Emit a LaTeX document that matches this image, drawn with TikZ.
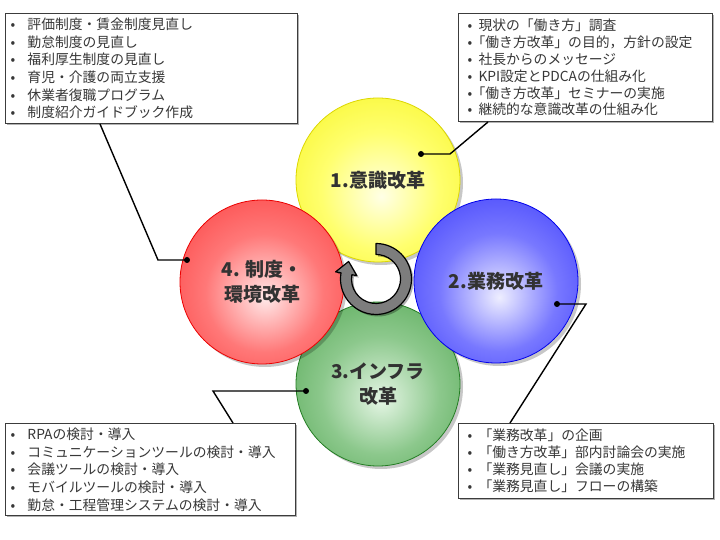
\documentclass[tikz,border=0pt]{standalone}
\usepackage{fontspec}
\setmainfont{Noto Sans CJK JP}
\usetikzlibrary{shadows}
\definecolor{txt}{RGB}{55,55,55}
\definecolor{ctxt}{RGB}{50,50,50}
\definecolor{boxline}{RGB}{60,60,60}
\definecolor{ringgray}{RGB}{125,125,125}
\definecolor{yin}{RGB}{255,255,230}
\definecolor{ymid}{RGB}{255,255,110}
\definecolor{yout}{RGB}{245,242,20}
\definecolor{yedge}{RGB}{220,215,0}
\definecolor{bin}{RGB}{238,238,255}
\definecolor{bmid}{RGB}{120,120,255}
\definecolor{bout}{RGB}{45,45,250}
\definecolor{bedge}{RGB}{0,0,235}
\definecolor{gin}{RGB}{228,245,228}
\definecolor{gmid}{RGB}{140,200,140}
\definecolor{gout}{RGB}{70,160,70}
\definecolor{gedge}{RGB}{35,125,35}
\definecolor{rin}{RGB}{255,232,232}
\definecolor{rmid}{RGB}{255,120,120}
\definecolor{rout}{RGB}{250,50,50}
\definecolor{redge}{RGB}{235,0,0}
\pgfdeclareradialshading{yball}{\pgfpoint{1bp}{-5bp}}{color(0bp)=(yin); color(18bp)=(ymid); color(42bp)=(yout); color(56bp)=(yout)}
\pgfdeclareradialshading{bball}{\pgfpoint{1bp}{-5bp}}{color(0bp)=(bin); color(18bp)=(bmid); color(42bp)=(bout); color(56bp)=(bout)}
\pgfdeclareradialshading{gball}{\pgfpoint{1bp}{-5bp}}{color(0bp)=(gin); color(18bp)=(gmid); color(42bp)=(gout); color(56bp)=(gout)}
\pgfdeclareradialshading{rball}{\pgfpoint{1bp}{-5bp}}{color(0bp)=(rin); color(18bp)=(rmid); color(42bp)=(rout); color(56bp)=(rout)}
\newcommand{\bulL}{\makebox[17pt][l]{•}}
\newcommand{\bulR}{\makebox[11pt][l]{•}}
\begin{document}
\begin{tikzpicture}[x=1pt,y=1pt,
  ball/.style={circle, minimum size=164pt, inner sep=0pt, line width=0.8pt, align=center,
    font=\fontsize{19}{25}\selectfont\bfseries, text=ctxt,
    drop shadow={shadow xshift=3pt, shadow yshift=-3pt, opacity=0.22, fill=black}},
  infobox/.style={draw=boxline, line width=1pt, fill=white, anchor=north west, align=left,
    text=txt, font=\fontsize{13.8}{17.7}\selectfont, inner ysep=0pt,
    drop shadow={shadow xshift=1.5pt, shadow yshift=-1.5pt, opacity=0.3, fill=black}},
  conn/.style={line width=1.4pt, black},
  dotnode/.style={circle, fill=black, minimum size=6pt, inner sep=0pt},
  ring/.style={fill=ringgray, draw=black, line width=1.2pt, line join=round,
    drop shadow={shadow xshift=2pt, shadow yshift=-2pt, opacity=0.3, fill=black}}
]
\useasboundingbox (0,0) rectangle (720,540);
\fill[white] (0,0) rectangle (720,540);

% circles
\node[ball, shading=yball, draw=yedge] (c1) at (378,360) {1.意識改革};
\node[ball, shading=gball, draw=gedge] (c3) at (378,156) {3.インフラ\\改革};
\node[ball, shading=rball, draw=redge] (c4) at (262,258) {4. 制度・\\環境改革};
\node[ball, shading=bball, draw=bedge] (c2) at (496,259) {2.業務改革};

% circular arrow
\coordinate (C) at (376,261);
\draw[ring] ([shift={(90:35.5)}]C) arc[start angle=90, end angle=-190, radius=35.5]
  -- ([shift={(170:41)}]C) -- ([shift={(170:30)},shift={(80:12.5)}]C)
  -- ([shift={(170:19.5)}]C) -- ([shift={(170:24.5)}]C)
  arc[start angle=170, end angle=450, radius=24.5] -- cycle;

% boxes
\node[infobox, text width=282pt, inner xsep=5pt, minimum height=110pt] (b1) at (5,527) {%
\bulL 評価制度・賃金制度見直し\\
\bulL 勤怠制度の見直し\\
\bulL 福利厚生制度の見直し\\
\bulL 育児・介護の両立支援\\
\bulL 休業者復職プログラム\\
\bulL 制度紹介ガイドブック作成};

\node[infobox, text width=236pt, inner xsep=9pt, minimum height=108pt,
  font=\fontsize{13.8}{16.9}\selectfont] (b2) at (458,527) {%
\bulR 現状の「働き方」調査\\
\bulR\hspace{-0.5em}「働き方改革」の目的，方針の設定\\
\bulR 社長からのメッセージ\\
\bulR KPI設定とPDCAの仕組み化\\
\bulR\hspace{-0.5em}「働き方改革」セミナーの実施\\
\bulR 継続的な意識改革の仕組み化};

\node[infobox, text width=280pt, inner xsep=5pt, minimum height=92pt] (b3) at (5,117) {%
\bulL RPAの検討・導入\\
\bulL コミュニケーションツールの検討・導入\\
\bulL 会議ツールの検討・導入\\
\bulL モバイルツールの検討・導入\\
\bulL 勤怠・工程管理システムの検討・導入};

\node[infobox, text width=237pt, inner xsep=9pt, minimum height=75pt,
  font=\fontsize{13.8}{17}\selectfont] (b4) at (458,117) {%
\bulR 「業務改革」の企画\\
\bulR 「働き方改革」部内討論会の実施\\
\bulR 「業務見直し」会議の実施\\
\bulR 「業務見直し」フローの構築};

% connectors
\node[dotnode] (d1) at (187,280) {};
\node[dotnode] (d2) at (421,386) {};
\node[dotnode] (d3) at (557,236) {};
\node[dotnode] (d4) at (306,149) {};
\coordinate (k1) at (158,280);
\coordinate (k2) at (450,386);
\coordinate (k3) at (586,236);
\coordinate (k4) at (213,149);
\draw[conn] ([xshift=95pt]b1.south west) -- (k1) -- (d1.center);
\draw[conn] ([xshift=30pt]b2.south west) -- (k2) -- (d2.center);
\draw[conn] (d3.center) -- (k3) -- ([xshift=52pt]b4.north west);
\draw[conn] (d4.center) -- (k4) -- ([xshift=228pt]b3.north west);
\end{tikzpicture}
\end{document}
